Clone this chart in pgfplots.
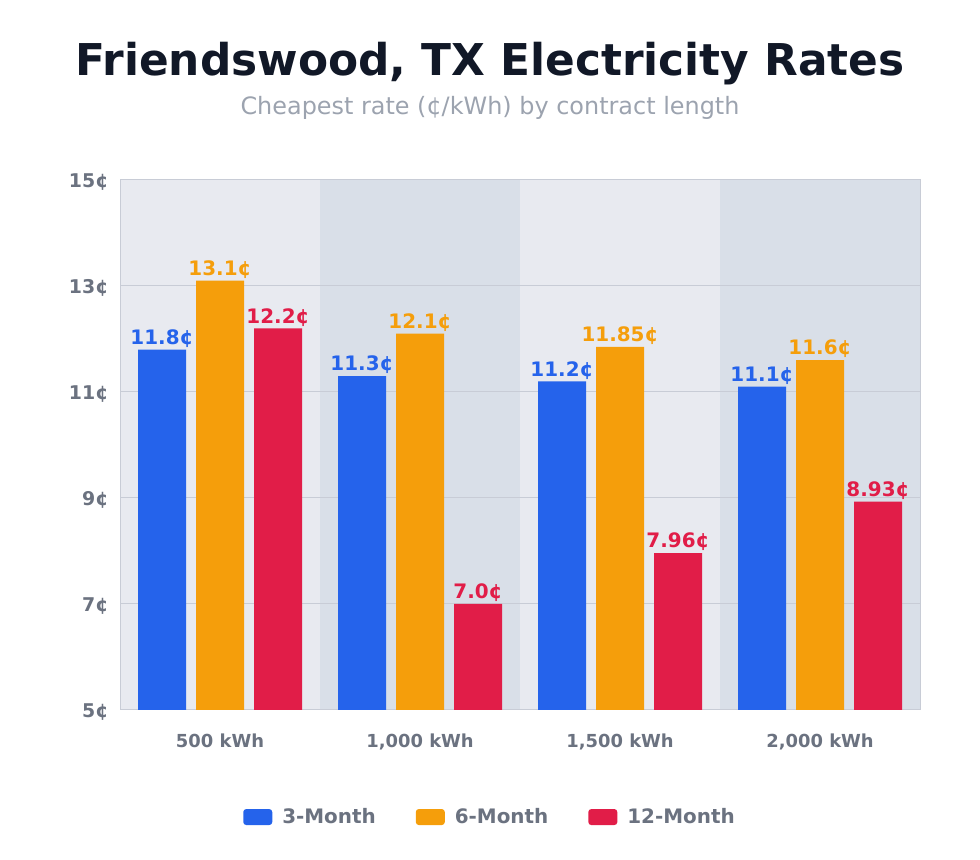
\documentclass[border=0pt]{standalone}
\usepackage{fontspec}
\setmainfont{DejaVu Sans}
\usepackage{pgfplots}
\usepackage{pgfplotstable}
\pgfplotsset{compat=1.18}

\definecolor{c3}{HTML}{2563EB}
\definecolor{c6}{HTML}{F59E0B}
\definecolor{c12}{HTML}{E11D48}
\definecolor{bandA}{HTML}{E8EAF0}
\definecolor{bandB}{HTML}{D9DFE8}
\definecolor{gridc}{HTML}{C8CCD6}
\definecolor{tickc}{HTML}{6B7280}
\definecolor{titlec}{HTML}{111827}
\definecolor{subc}{HTML}{9CA3AF}

% cheapest rate in cents/kWh, by usage level and contract length
\pgfplotstableread{
x three six twelve l3 l6 l12
0 11.8 13.1  12.2 11.8 13.1  12.2
1 11.3 12.1  7.0  11.3 12.1  7.0
2 11.2 11.85 7.96 11.2 11.85 7.96
3 11.1 11.6  8.93 11.1 11.6  8.93
}\rates

\begin{document}
\begin{tikzpicture}
\path (0,0) rectangle (980bp,860bp);
\node[font=\bfseries\fontsize{44}{44}\selectfont, text=titlec] at (490bp,796bp) {Friendswood, TX Electricity Rates};
\node[font=\fontsize{24}{24}\selectfont, text=subc] at (490bp,752bp) {Cheapest rate (¢/kWh) by contract length};
\begin{axis}[
    at={(120bp,150bp)}, anchor=south west,
    scale only axis,
    width=800bp, height=530bp,
    set layers,
    ybar,
    bar width=0.24,
    xmin=-0.5, xmax=3.5,
    ymin=5, ymax=15,
    xtick={0,1,2,3},
    xticklabels={500 kWh,{1,000 kWh},{1,500 kWh},{2,000 kWh}},
    ytick={5,7,9,11,13,15},
    yticklabels={5¢,7¢,9¢,11¢,13¢,15¢},
    major tick length=0,
    tick label style={text=tickc, font=\bfseries\fontsize{18}{18}\selectfont},
    xticklabel style={yshift=-20bp},
    yticklabel style={xshift=-8bp, yshift=-2bp, font=\bfseries\fontsize{19}{19}\selectfont},
    ymajorgrids,
    grid style={gridc, line width=1bp},
    axis line style={gridc, line width=1bp},
    point meta=explicit symbolic,
    nodes near coords={\pgfplotspointmeta¢},
    every node near coord/.append style={font=\bfseries\fontsize{20}{20}\selectfont, anchor=south, inner sep=2bp},
    legend columns=3,
    legend style={at={(0.4625,-0.202)}, anchor=center, draw=none, fill=none,
        font=\bfseries\fontsize{20}{20}\selectfont, text=tickc,
        /tikz/every odd column/.append style={column sep=8bp},
        /tikz/every even column/.append style={column sep=38bp}},
    legend image code/.code={\fill[#1, rounded corners=3bp] (0bp,-8bp) rectangle (29bp,8bp);},
]
\begin{pgfonlayer}{axis background}
\fill[bandA] (axis cs:-0.5,5) rectangle (axis cs:0.5,15);
\fill[bandB] (axis cs:0.5,5) rectangle (axis cs:1.5,15);
\fill[bandA] (axis cs:1.5,5) rectangle (axis cs:2.5,15);
\fill[bandB] (axis cs:2.5,5) rectangle (axis cs:3.5,15);
\end{pgfonlayer}

\addplot[fill=c3, draw=none, bar shift=-0.29, nodes near coords style={text=c3}]
    table[x=x, y=three, meta=l3] {\rates};
\addlegendentry{3-Month}
\addplot[fill=c6, draw=none, bar shift=0, nodes near coords style={text=c6}]
    table[x=x, y=six, meta=l6] {\rates};
\addlegendentry{6-Month}
\addplot[fill=c12, draw=none, bar shift=0.29, nodes near coords style={text=c12}]
    table[x=x, y=twelve, meta=l12] {\rates};
\addlegendentry{12-Month}
\end{axis}
\end{tikzpicture}
\end{document}
